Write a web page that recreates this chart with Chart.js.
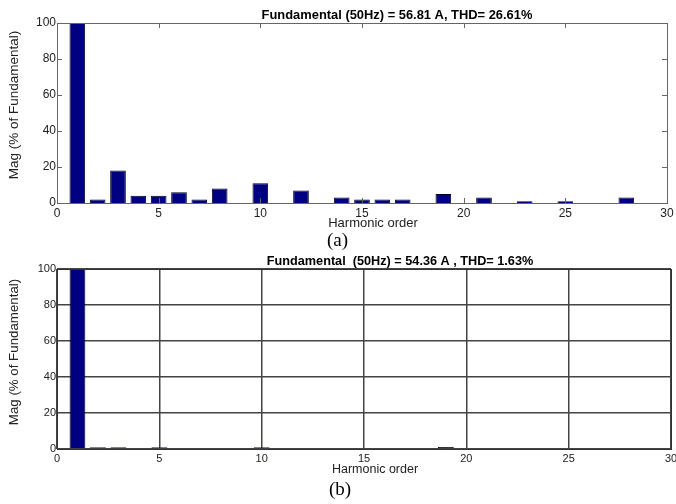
<!DOCTYPE html>
<html>
<head>
<meta charset="utf-8">
<script src="https://cdn.jsdelivr.net/npm/chart.js@4.4.0/dist/chart.umd.min.js"></script>
<style>
body{margin:0;background:#fff;width:676px;height:504px;position:relative;overflow:hidden}
.box{position:absolute;left:0;width:676px}
#boxA{top:0;height:250px}
#boxB{top:250px;height:254px}
.cap{position:absolute;font-family:"Liberation Serif","Times New Roman",serif;font-size:19px;line-height:22px;color:#000}
</style>
</head>
<body>
<div class="box" id="boxA"><canvas id="chartA"></canvas></div>
<div class="box" id="boxB"><canvas id="chartB"></canvas></div>
<div class="cap" style="left:327px;top:229px">(a)</div>
<div class="cap" style="left:329px;top:478px">(b)</div>
<script>
//Data spektrum harmonik//
const harmonicOrder = [0,1,2,3,4,5,6,7,8,9,10,11,12,13,14,15,16,17,18,19,20,21,22,23,24,25,26,27,28,29];
const magA = [0,100,2,18,4,4,6,2,8,0,11,0,7,0,3,2,2,2,0,5,0,3,0,1,0,1,0,0,3,0];
const magB = [0,100,1,1,0,1,0,0,0,0,1,0,0,0,0,0,0,0,0,1.1,0,0,0,0,0,0,0,0,0,0];
const xTicks = [0,5,10,15,20,25,30];
const yTicks = [0,20,40,60,80,100];
const titleA = "Fundamental (50Hz) = 56.81 A, THD= 26.61%";
const titleB = "Fundamental  (50Hz) = 54.36 A , THD= 1.63%";

const FONT = '"Liberation Sans", Arial, sans-serif';

// kotak + tick ke dalam + judul ala matlab
const matlabFrame = {
  id: "matlabFrame",
  afterDatasetsDraw(chart, args, opts) {
    const ctx = chart.ctx;
    const a = chart.chartArea;
    const x = chart.scales.x, y = chart.scales.y;
    ctx.save();
    ctx.strokeStyle = opts.color;
    ctx.lineWidth = 1;
    ctx.strokeRect(Math.round(a.left) + 0.5, Math.round(a.top) + 0.5,
      Math.round(a.right - a.left), Math.round(a.bottom - a.top));
    if (opts.tickLen) {
      ctx.beginPath();
      xTicks.slice(1, -1).forEach((v) => {
        const px = Math.round(x.getPixelForValue(v)) + 0.5;
        ctx.moveTo(px, a.top); ctx.lineTo(px, a.top + opts.tickLen);
        ctx.moveTo(px, a.bottom); ctx.lineTo(px, a.bottom - opts.tickLen);
      });
      yTicks.slice(1, -1).forEach((v) => {
        const py = Math.round(y.getPixelForValue(v)) + 0.5;
        ctx.moveTo(a.left, py); ctx.lineTo(a.left + opts.tickLen, py);
        ctx.moveTo(a.right, py); ctx.lineTo(a.right - opts.tickLen, py);
      });
      ctx.stroke();
    }
    ctx.fillStyle = "#000";
    ctx.textAlign = "center";
    ctx.textBaseline = "middle";
    ctx.font = "bold " + opts.titleSize + "px " + FONT;
    ctx.fillText(opts.title, opts.titleX, opts.titleY);
    ctx.fillStyle = "#222";
    ctx.font = opts.labelSize + "px " + FONT;
    ctx.fillText("Harmonic order", opts.xLabelX, opts.xLabelY);
    ctx.font = opts.yLabelSize + "px " + FONT;
    ctx.translate(opts.yLabelX, opts.yLabelY);
    ctx.rotate(-Math.PI / 2);
    ctx.fillText("Mag (% of Fundamental)", 0, 0);
    ctx.restore();
  },
};

function spectrumChart(id, mag, cfg) {
  const points = harmonicOrder
    .map((h, i) => ({ x: h, y: mag[i] }))
    .filter((p) => p.y > 0);

  const data = {
    datasets: [
      {
        label: "Mag",
        data: points,
        backgroundColor: "#000080",
        borderColor: "#000020",
        borderWidth: 1,
        borderSkipped: "start",
        barPercentage: 0.77,
        categoryPercentage: 1,
      },
    ],
  };

  const config = {
    type: "bar",
    data: data,
    plugins: [matlabFrame],
    options: {
      responsive: true,
      maintainAspectRatio: false,
      animation: false,
      layout: { padding: cfg.padding },
      scales: {
        x: {
          type: "linear",
          min: 0,
          max: 30,
          offset: false,
          afterBuildTicks: (s) => { s.ticks = xTicks.map((v) => ({ value: v })); },
          afterFit: (s) => { s.height = cfg.xHeight; s.paddingRight = 0; },
          grid: {
            display: cfg.grid,
            offset: false,
            drawTicks: false,
            color: "#444",
            lineWidth: 1.5,
          },
          border: { display: false },
          ticks: {
            padding: cfg.tickPadX,
            color: "#222",
            font: { family: FONT, size: cfg.tickSize },
            maxRotation: 0,
          },
        },
        y: {
          min: 0,
          max: 100,
          afterBuildTicks: (s) => { s.ticks = yTicks.map((v) => ({ value: v })); },
          afterFit: (s) => { s.width = cfg.yWidth; },
          grid: {
            display: cfg.grid,
            drawTicks: false,
            color: "#444",
            lineWidth: 1.5,
          },
          border: { display: false },
          ticks: {
            padding: 1,
            color: "#222",
            font: { family: FONT, size: cfg.tickSize },
          },
        },
      },
      plugins: {
        legend: { display: false },
        tooltip: { enabled: false },
        matlabFrame: cfg.frame,
      },
    },
  };
  return new Chart(document.getElementById(id).getContext("2d"), config);
}

spectrumChart("chartA", magA, {
  padding: { left: 0, right: 9, top: 23, bottom: 0 },
  xHeight: 47,
  yWidth: 57,
  grid: false,
  tickPadX: 3,
  tickSize: 12,
  frame: {
    color: "#666",
    tickLen: 5,
    title: titleA, titleSize: 12.9, titleX: 397, titleY: 15,
    labelSize: 13, xLabelX: 373, xLabelY: 223,
    yLabelSize: 13.5, yLabelX: 14, yLabelY: 105,
  },
});

spectrumChart("chartB", magB, {
  padding: { left: 0, right: 5, top: 19, bottom: 0 },
  xHeight: 55,
  yWidth: 57,
  grid: true,
  tickPadX: 3,
  tickSize: 11,
  frame: {
    color: "#333",
    tickLen: 0,
    title: titleB, titleSize: 12.7, titleX: 400, titleY: 11,
    labelSize: 12.5, xLabelX: 375, xLabelY: 220,
    yLabelSize: 13.3, yLabelX: 14, yLabelY: 102,
  },
});
//Akhir Data spektrum harmonik//
</script>
</body>
</html>
